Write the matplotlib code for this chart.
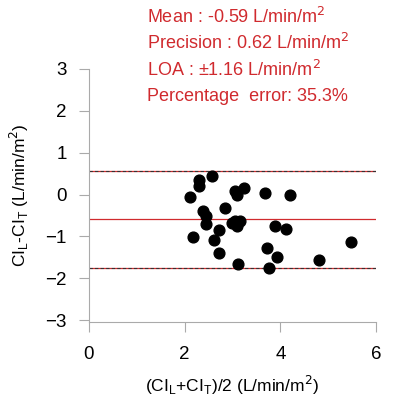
import matplotlib.pyplot as plt

# Bland-Altman data: mean of the two methods vs difference
ci_mean = [2.58, 2.31, 2.30, 2.11, 3.05, 3.24, 3.10, 3.68, 4.21, 2.85,
           2.39, 2.45, 2.45, 3.05, 3.16, 3.09, 2.98, 3.89, 4.11, 2.72,
           2.18, 2.62, 5.47, 3.73, 2.71, 3.94, 4.80, 3.12, 3.77]
ci_diff = [0.45, 0.34, 0.20, -0.05, 0.08, 0.15, 0.00, 0.04, -0.01, -0.32,
           -0.40, -0.50, -0.70, -0.64, -0.62, -0.76, -0.68, -0.76, -0.82, -0.85,
           -1.02, -1.08, -1.12, -1.27, -1.40, -1.49, -1.57, -1.66, -1.76]

bias = -0.59
loa = 1.16
stats_lines = ["Mean : -0.59 L/min/m$^2$",
               "Precision : 0.62 L/min/m$^2$",
               "LOA : \u00b11.16 L/min/m$^2$",
               "Percentage  error: 35.3%"]

plt.rcParams['font.family'] = ['Liberation Sans', 'DejaVu Sans']

fig = plt.figure(figsize=(4.17, 3.98), dpi=100)
ax = fig.add_axes([0.213, 0.19, 0.689, 0.637])

red = "#d02a2e"
ax.axhline(bias, color=red, lw=0.9)
for lvl in (bias + loa, bias - loa):
    ax.axhline(lvl, color=red, lw=0.9)
    ax.axhline(lvl, color="#333333", lw=0.8, ls=(0, (3, 2)))

ax.scatter(ci_mean, ci_diff, s=60, color="black", zorder=3)

ax.set_xlim(0, 6)
ax.set_ylim(-3.05, 3)
ax.set_xticks([0, 2, 4, 6])
ax.set_yticks([3, 2, 1, 0, -1, -2, -3])
ax.tick_params(labelsize=13.5, color="#aaaaaa", length=7, width=0.8)
ax.tick_params(axis="y", pad=9)
ax.tick_params(axis="x", pad=10)
for side in ("top", "right"):
    ax.spines[side].set_visible(False)
for side in ("left", "bottom"):
    ax.spines[side].set_color("#aaaaaa")
    ax.spines[side].set_linewidth(0.8)

ax.set_xlabel("(CI$_\\mathregular{L}$+CI$_\\mathregular{T}$)/2 (L/min/m$^2$)", fontsize=12.5, labelpad=8)
ax.set_ylabel("CI$_\\mathregular{L}$-CI$_\\mathregular{T}$ (L/min/m$^2$)", fontsize=12.5, labelpad=10)

for i, line in enumerate(stats_lines):
    fig.text(0.353, 0.958 - i * 0.0665, line, color=red, fontsize=13, va="center")

fig.savefig("out.png", dpi=100)
